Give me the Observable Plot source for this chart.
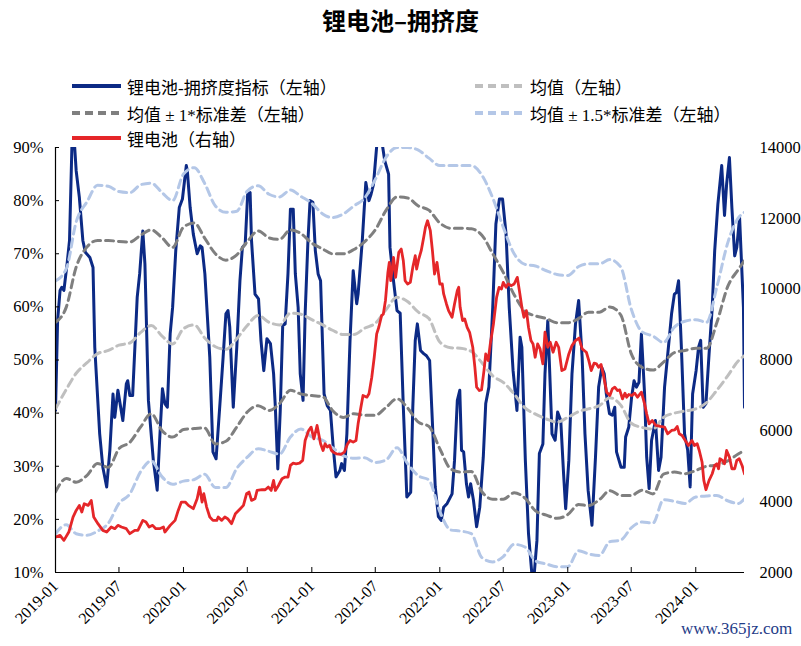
<!DOCTYPE html>
<html>
<head>
<meta charset="utf-8">
<script src="https://cdn.jsdelivr.net/npm/d3@7"></script>
<script src="https://cdn.jsdelivr.net/npm/@observablehq/plot@0.6"></script>
<style>
  body { margin: 0; background: #fff; }
  #wrap { position: relative; width: 801px; height: 646px; overflow: hidden;
          font-family: "Liberation Serif", "Noto Sans CJK SC", serif; color: #000; }
  #title { position: absolute; left: 0; top: 2px; width: 801px; text-align: center;
           font-family: "Noto Sans CJK SC", sans-serif; font-weight: 700; font-size: 24px; }
  .lg { position: absolute; display: flex; align-items: center; white-space: nowrap;
        font-size: 17px; height: 22px; }
  .lg svg { margin-right: 6px; }
  #chart { position: absolute; left: 0; top: 128px; }
  #wm { position: absolute; left: 681px; top: 619px; font-size: 17px; color: #1f3c88;
        font-family: "Liberation Serif", serif; }
</style>
</head>
<body>
<div id="wrap">
  <div id="title"></div>
  <div id="legend"></div>
  <div id="chart"></div>
  <div id="wm">www.365jz.com</div>
</div>
<script>
// ---------------- data ----------------
const chartTitle = "锂电池–拥挤度";
const seriesNames = ["锂电池-拥挤度指标（左轴）", "均值（左轴）", "均值 ± 1*标准差（左轴）", "均值 ± 1.5*标准差（左轴）", "锂电池（右轴）"];
const xTickLabels = ["2019-01","2019-07","2020-01","2020-07","2021-01","2021-07","2022-01","2022-07","2023-01","2023-07","2024-01"];
const leftTicks = [10, 20, 30, 40, 50, 60, 70, 80, 90];
const rightTicks = [2000, 4000, 6000, 8000, 10000, 12000, 14000];

// crowding index (%), left axis
const crowding = [
["2019-01-01",40.5],["2019-01-07",57.4],["2019-01-14",63.1],["2019-01-19",63.7],["2019-01-25",63.1],
["2019-02-03",68.1],["2019-02-10",72.5],["2019-02-19",96],["2019-03-01",85.6],["2019-03-10",80.6],
["2019-03-20",72.5],["2019-03-27",70.3],["2019-04-09",69.3],["2019-04-18",67.4],["2019-04-23",52.4],
["2019-05-07",36.1],["2019-05-16",29.8],["2019-05-27",26.1],["2019-06-05",33],["2019-06-14",43.6],
["2019-06-19",39.2],["2019-06-28",44.3],["2019-07-12",38.6],["2019-07-22",45.5],["2019-07-26",46.1],
["2019-08-01",43.3],["2019-08-09",43.3],["2019-08-22",61.8],["2019-08-29",66.2],["2019-09-07",74.3],
["2019-09-13",68.1],["2019-09-23",42.4],["2019-10-07",31.1],["2019-10-18",25.5],["2019-10-25",34.9],
["2019-11-02",44.6],["2019-11-09",41.8],["2019-11-16",41.1],["2019-11-24",54.9],["2019-12-01",59.9],
["2019-12-10",70.6],["2019-12-20",78.7],["2019-12-29",80.3],["2020-01-09",86.6],["2020-01-12",85.6],
["2020-01-20",78.7],["2020-01-29",73.7],["2020-02-09",70.0],["2020-02-18",71.5],["2020-02-23",71.2],
["2020-03-02",66.2],["2020-03-16",50.5],["2020-03-25",32.7],["2020-04-03",31.4],["2020-04-14",41.8],
["2020-04-23",50.5],["2020-05-01",58.7],["2020-05-07",59.3],["2020-05-12",56.2],["2020-05-22",41.1],
["2020-06-01",52.4],["2020-06-10",64.9],["2020-06-17",71.2],["2020-06-25",71.8],["2020-07-02",81.2],
["2020-07-09",81.5],["2020-07-13",72.5],["2020-07-23",62.4],["2020-08-02",61.5],["2020-08-09",53.7],
["2020-08-17",48.0],["2020-08-26",54.0],["2020-09-05",53.1],["2020-09-14",47.4],["2020-09-19",41.1],
["2020-09-26",29.5],["2020-10-03",40.5],["2020-10-10",56.5],["2020-10-17",56.8],["2020-10-25",66.2],
["2020-11-01",78.4],["2020-11-09",78.4],["2020-11-15",66.2],["2020-11-23",59.9],["2020-11-29",47.4],
["2020-12-07",42.4],["2020-12-13",58.7],["2020-12-21",72.5],["2020-12-27",80.0],["2021-01-04",79.7],
["2021-01-11",70.6],["2021-01-19",66.2],["2021-01-26",64.9],["2021-02-05",43.6],["2021-02-14",41.4],
["2021-02-23",40.5],["2021-03-03",33.6],["2021-03-11",28.0],["2021-03-22",29.2],["2021-03-27",30.5],
["2021-04-04",29.2],["2021-04-11",36.1],["2021-04-20",53.7],["2021-04-29",66.8],["2021-05-09",60.6],
["2021-05-13",62.4],["2021-05-25",72.5],["2021-06-04",83.4],["2021-06-13",80.0],["2021-06-19",81.2],
["2021-06-26",83.1],["2021-07-11",95],["2021-07-28",87.5],["2021-08-08",85.0],["2021-08-12",71.2],
["2021-08-22",64.9],["2021-09-01",59.3],["2021-09-10",58.8],["2021-09-19",41.1],["2021-09-29",24.2],
["2021-10-10",25.1],["2021-10-16",41.1],["2021-10-23",53.7],["2021-10-29",56.8],["2021-11-07",51.8],
["2021-11-16",51.2],["2021-11-24",50.8],["2021-12-03",49.9],["2021-12-09",41.1],["2021-12-19",26.1],
["2021-12-28",20.5],["2022-01-05",19.8],["2022-01-12",22.3],["2022-01-22",23.0],["2022-02-05",24.8],
["2022-02-12",31.1],["2022-02-20",42.4],["2022-02-27",44.3],["2022-03-04",33.0],["2022-03-10",32.7],
["2022-03-18",26.7],["2022-03-24",24.2],["2022-03-30",26.7],["2022-04-07",23.6],["2022-04-16",18.6],
["2022-04-25",22.3],["2022-05-05",31.7],["2022-05-12",41.8],["2022-05-21",44.9],["2022-06-01",59.9],
["2022-06-10",75.6],["2022-06-20",80.3],["2022-06-29",80.3],["2022-07-09",73.7],["2022-07-18",59.9],
["2022-07-29",48.0],["2022-08-09",40.5],["2022-08-18",54.3],["2022-08-23",52.4],["2022-09-02",31.1],
["2022-09-11",17.3],["2022-09-24",7],["2022-10-05",16.0],["2022-10-12",32.4],["2022-10-22",34.2],
["2022-10-28",47.4],["2022-11-05",57.4],["2022-11-10",48.6],["2022-11-17",36.1],["2022-11-26",34.9],
["2022-12-03",40.2],["2022-12-12",38.6],["2022-12-20",28.6],["2022-12-26",22.0],["2023-01-04",31.1],
["2023-01-13",47.4],["2023-01-23",56.8],["2023-02-01",61.2],["2023-02-11",50.5],["2023-02-19",36.1],
["2023-02-28",25.5],["2023-03-11",18.9],["2023-03-21",31.7],["2023-03-30",44.9],["2023-04-08",48.6],
["2023-04-15",47.4],["2023-04-21",43.6],["2023-04-30",39.9],["2023-05-08",39.6],["2023-05-15",41.1],
["2023-05-20",32.7],["2023-06-02",29.8],["2023-06-11",29.8],["2023-06-15",35.5],["2023-06-24",37.4],
["2023-07-02",43.0],["2023-07-09",46.1],["2023-07-16",44.9],["2023-07-23",45.8],["2023-07-30",54.9],
["2023-08-08",43.6],["2023-08-14",31.7],["2023-08-21",25.8],["2023-08-28",34.9],["2023-09-08",38.6],
["2023-09-17",29.2],["2023-09-24",31.7],["2023-10-04",44.9],["2023-10-15",52.4],["2023-10-24",58.7],
["2023-11-01",62.4],["2023-11-07",62.7],["2023-11-13",64.9],["2023-11-21",52.4],["2023-11-30",36.1],
["2023-12-09",33.0],["2023-12-16",26.1],["2023-12-23",43.6],["2024-01-02",48.0],["2024-01-09",52.4],
["2024-01-15",53.7],["2024-01-22",41.1],["2024-01-30",41.8],["2024-02-08",51.2],["2024-02-17",59.9],
["2024-02-24",70.6],["2024-03-04",79.3],["2024-03-15",86.6],["2024-03-23",77.2],["2024-03-29",83.1],
["2024-04-06",88.1],["2024-04-13",78.7],["2024-04-21",69.6],["2024-04-27",71.2],["2024-05-05",76.8],
["2024-05-09",70.6],["2024-05-16",59.9],["2024-05-19",41.1]
];

// lithium battery index, right axis
const batteryIndex = [
["2019-01-01",3000],["2019-01-14",3049],["2019-01-25",2908],["2019-02-08",3143],["2019-02-20",3566],
["2019-03-01",3754],["2019-03-10",3895],["2019-03-17",3707],["2019-03-24",3942],["2019-04-04",3895],
["2019-04-13",4036],["2019-04-20",3566],["2019-05-02",3378],["2019-05-16",3190],["2019-05-27",3143],
["2019-06-09",3284],["2019-06-19",3237],["2019-06-28",3331],["2019-07-08",3284],["2019-07-22",3237],
["2019-08-01",3096],["2019-08-15",3190],["2019-08-24",3190],["2019-09-07",3472],["2019-09-16",3425],
["2019-09-25",3284],["2019-10-05",3331],["2019-10-14",3237],["2019-10-25",3237],["2019-11-05",3284],
["2019-11-09",3143],["2019-11-24",3331],["2019-12-08",3472],["2019-12-17",3754],["2019-12-26",3989],
["2020-01-06",3989],["2020-01-15",3895],["2020-01-29",3801],["2020-02-09",4083],["2020-02-16",4412],
["2020-02-23",3989],["2020-02-28",4224],["2020-03-07",3848],["2020-03-16",3566],["2020-03-25",3472],
["2020-04-05",3472],["2020-04-09",3566],["2020-04-19",3472],["2020-04-28",3566],["2020-05-06",3519],
["2020-05-17",3378],["2020-05-28",3660],["2020-06-11",3801],["2020-06-20",3895],["2020-06-29",4224],
["2020-07-06",4271],["2020-07-13",4036],["2020-07-23",4083],["2020-07-29",4318],["2020-08-12",4337],
["2020-08-21",4337],["2020-08-30",4412],["2020-09-07",4318],["2020-09-14",4600],["2020-09-19",4318],
["2020-09-28",4459],["2020-10-08",4647],["2020-10-17",4694],["2020-10-25",4694],["2020-11-01",5023],
["2020-11-09",5089],["2020-11-17",5070],["2020-11-27",5089],["2020-12-06",5164],["2020-12-13",5728],
["2020-12-23",6010],["2020-12-30",6104],["2021-01-07",5775],["2021-01-16",6151],["2021-01-26",5634],
["2021-02-02",5446],["2021-02-08",5634],["2021-02-14",5540],["2021-02-21",5587],["2021-02-26",5446],
["2021-03-03",5399],["2021-03-12",5352],["2021-03-25",5333],["2021-04-04",5399],["2021-04-13",5634],
["2021-04-20",5728],["2021-04-29",5681],["2021-05-07",5728],["2021-05-13",6198],["2021-05-21",6668],
["2021-05-27",6997],["2021-06-07",6950],["2021-06-13",7044],["2021-06-21",7514],["2021-06-28",8078],
["2021-07-05",8736],["2021-07-11",8924],["2021-07-19",9253],["2021-07-24",9300],["2021-07-30",9676],
["2021-08-06",10475],["2021-08-10",10757],["2021-08-14",10240],["2021-08-22",10898],["2021-08-28",10334],
["2021-09-06",11039],["2021-09-13",11133],["2021-09-19",10800],["2021-09-24",10240],["2021-10-01",10146],
["2021-10-09",10193],["2021-10-16",10616],["2021-10-23",10945],["2021-10-27",10569],["2021-11-02",10851],
["2021-11-09",11086],["2021-11-16",11462],["2021-11-21",11744],["2021-11-27",11932],["2021-12-05",11650],
["2021-12-11",11086],["2021-12-17",10428],["2021-12-24",10757],["2022-01-01",10146],["2022-01-08",10146],
["2022-01-12",9864],["2022-01-20",9582],["2022-01-26",9394],["2022-02-05",9206],["2022-02-12",9582],
["2022-02-20",9958],["2022-02-24",10052],["2022-02-28",9488],["2022-03-07",9112],["2022-03-13",9159],
["2022-03-20",8924],["2022-03-27",8783],["2022-04-05",8360],["2022-04-11",7796],["2022-04-16",7232],
["2022-04-24",7138],["2022-04-30",7157],["2022-05-07",7702],["2022-05-12",8172],["2022-05-19",7984],
["2022-05-25",8454],["2022-06-03",9018],["2022-06-12",9770],["2022-06-19",10052],["2022-06-26",10005],
["2022-07-01",10193],["2022-07-09",10052],["2022-07-15",10146],["2022-07-24",10099],["2022-08-01",10146],
["2022-08-10",10334],["2022-08-16",9958],["2022-08-23",9488],["2022-08-29",9206],["2022-09-05",9394],
["2022-09-11",8924],["2022-09-18",8548],["2022-09-24",8454],["2022-09-30",8078],["2022-10-07",8454],
["2022-10-14",8313],["2022-10-22",7890],["2022-10-28",8783],["2022-11-05",8360],["2022-11-12",8501],
["2022-11-20",8219],["2022-11-29",8501],["2022-12-06",8360],["2022-12-15",7702],["2022-12-24",7749],
["2023-01-04",8172],["2023-01-13",8407],["2023-01-23",8548],["2023-02-02",8620],["2023-02-11",8313],
["2023-02-23",8219],["2023-03-02",7984],["2023-03-09",7702],["2023-03-17",7909],["2023-03-24",7890],
["2023-03-30",7796],["2023-04-06",7871],["2023-04-12",7608],["2023-04-22",7091],["2023-05-01",6997],
["2023-05-08",7185],["2023-05-15",7232],["2023-05-23",7138],["2023-05-29",7157],["2023-06-06",6903],
["2023-06-13",7063],["2023-06-18",6950],["2023-06-24",7025],["2023-07-02",6997],["2023-07-11",7063],
["2023-07-19",6950],["2023-07-30",7091],["2023-08-08",6762],["2023-08-14",6480],["2023-08-21",6198],
["2023-08-30",6292],["2023-09-09",6151],["2023-09-22",6123],["2023-10-04",6104],["2023-10-13",5916],
["2023-10-24",6010],["2023-11-02",6029],["2023-11-09",6123],["2023-11-15",5916],["2023-11-23",5869],
["2023-12-02",5728],["2023-12-11",5587],["2023-12-21",5728],["2023-12-28",5587],["2024-01-05",5634],
["2024-01-11",5446],["2024-01-19",5117],["2024-01-24",4600],["2024-01-30",4337],["2024-02-08",4600],
["2024-02-17",4788],["2024-02-24",5023],["2024-03-01",5070],["2024-03-06",4929],["2024-03-10",5211],
["2024-03-17",5164],["2024-03-23",5070],["2024-03-29",5446],["2024-04-06",5258],["2024-04-13",4929],
["2024-04-21",4929],["2024-04-27",5164],["2024-05-04",5211],["2024-05-12",5023],["2024-05-19",4788]
];

// rolling statistics of the crowding index (%), sampled monthly
const bandDates = [
"2019-01-01","2019-02-01","2019-03-01","2019-04-01","2019-05-01","2019-06-01","2019-07-01","2019-08-01","2019-09-01","2019-10-01","2019-11-01","2019-12-01",
"2020-01-01","2020-02-01","2020-03-01","2020-04-01","2020-05-01","2020-06-01","2020-07-01","2020-08-01","2020-09-01","2020-10-01","2020-11-01","2020-12-01",
"2021-01-01","2021-02-01","2021-03-01","2021-04-01","2021-05-01","2021-06-01","2021-07-01","2021-08-01","2021-09-01","2021-10-01","2021-11-01","2021-12-01",
"2022-01-01","2022-02-01","2022-03-01","2022-04-01","2022-05-01","2022-06-01","2022-07-01","2022-08-01","2022-09-01","2022-10-01","2022-11-01","2022-12-01",
"2023-01-01","2023-02-01","2023-03-01","2023-04-01","2023-05-01","2023-06-01","2023-07-01","2023-08-01","2023-09-01","2023-10-01","2023-11-01","2023-12-01",
"2024-01-01","2024-02-01","2024-03-01","2024-04-01","2024-05-01","2024-05-19"];
const meanValues = [40.8,44.5,47.5,49.5,51.2,51.8,52.8,53.2,55.2,56.5, 54.5,53.0,55.9,56.6,54.2,52.5,52.0,54.0,56.5,58.4,
  57.1,56.6,58.8,58.6,57.6,56.6,55.6,54.8,54.8,56.0, 56.9,59.5,61.8,61.0,59.0,57.8,53.4,52.3,52.2,51.6,
  49.5,47.0,45.8,43.6,41.0,39.8,38.9,38.3,39.2,40.3, 40.8,41.4,42.9,41.5,38.1,37.3,37.0,39.2,40.0,40.4,
  40.8,42.0,44.3,47.0,49.8,50.8];
const upper1Values = [57.1,60.0,67.5,71.3,72.5,72.5,72.3,72.2,73.5,74.5, 73.0,71.2,75.0,75.8,73.0,70.0,68.8,69.8,72.3,74.3,
  73.0,72.7,74.5,73.8,72.0,70.9,70.0,70.0,70.8,72.3, 74.5,78.2,80.7,80.5,79.0,78.2,75.8,74.8,74.8,74.7,
  73.5,70.0,66.5,62.3,59.2,58.3,57.8,57.0,57.0,57.8, 59.0,59.0,60.0,58.5,51.2,48.6,48.1,49.6,51.4,51.8,
  52.2,52.2,57.0,63.8,67.0,68.7];
const lower1Values = [25.2,27.7,27.0,28.3,30.5,29.8,33.3,34.5,37.4,39.9, 36.7,35.5,36.9,37.1,37.2,34.2,34.7,37.4,40.2,41.4,
  40.5,41.8,44.3,43.6,43.3,43.1,40.5,39.2,39.9,39.6, 39.6,41.1,42.7,41.0,38.3,37.5,33.3,29.5,28.9,29.0,
  25.2,23.8,23.8,25.0,24.0,21.6,20.8,20.2,20.9,22.8, 22.6,23.7,25.4,24.5,24.5,25.5,24.8,28.5,28.9,28.6,
  29.2,30.0,30.2,31.0,32.3,33.0];
const upper15Values = [64.9,67.2,76.0,79.8,82.9,82.7,81.7,81.5,83.0,83.3, 81.5,80.0,85.0,86.2,83.3,79.0,77.8,78.0,81.8,82.8,
  81.2,80.7,82.0,80.8,79.5,77.5,76.8,77.5,79.0,80.5, 84.0,88.2,90.0,90.0,89.5,88.0,86.6,86.6,86.6,86.6,
  84.8,80.5,75.0,70.0,68.0,67.7,66.8,66.1,65.9,67.6, 68.1,68.1,68.9,67.5,59.6,55.3,54.5,53.3,56.2,57.3,
  57.6,57.1,63.7,72.0,76.7,77.8];
const lower15Values = [17.3,19.0,17.3,17.0,17.8,19.3,23.0,24.8,29.0,31.0, 28.0,26.6,27.2,27.5,28.5,26.0,26.0,29.6,31.7,33.3,
  32.8,32.3,35.5,37.0,35.5,34.9,33.5,32.0,31.5,31.6, 30.7,31.2,33.5,30.5,28.2,27.4,21.5,18.0,17.8,17.3,
  12.8,12.0,13.0,15.3,14.8,12.2,11.6,11.1,11.1,14.1, 13.5,13.2,15.8,16.1,18.4,19.5,19.3,23.7,23.4,23.0,
  24.2,24.4,24.5,23.5,23.0,23.9];

// ---------------- styles ----------------
const C = { index: "#0c2a85", mean: "#bfbfbf", sd1: "#7f7f7f", sd15: "#b4c7e7", price: "#e52629" };
const DASH = "8,5";

// ---------------- title & legend ----------------
document.getElementById("title").textContent = chartTitle;
const legendItems = [
  {name: seriesNames[0], color: C.index, dash: null, left: 72, top: 75},
  {name: seriesNames[1], color: C.mean, dash: DASH, left: 475, top: 75},
  {name: seriesNames[2], color: C.sd1, dash: DASH, left: 72, top: 102},
  {name: seriesNames[3], color: C.sd15, dash: DASH, left: 475, top: 102},
  {name: seriesNames[4], color: C.price, dash: null, left: 72, top: 127}
];
const lg = document.getElementById("legend");
for (const it of legendItems) {
  const div = document.createElement("div");
  div.className = "lg";
  div.style.left = it.left + "px";
  div.style.top = it.top + "px";
  div.innerHTML = `<svg width="49" height="6"><line x1="0" y1="3" x2="49" y2="3" stroke="${it.color}" stroke-width="4" ${it.dash ? `stroke-dasharray="${it.dash}"` : ""}/></svg><span></span>`;
  div.querySelector("span").textContent = it.name;
  lg.appendChild(div);
}

// ---------------- chart ----------------
const parseDay = d3.utcParse("%Y-%m-%d");
const parseMonth = d3.utcParse("%Y-%m");
const toLeft = r => 10 + (r - 2000) / 150;      // right axis 2000..14000 -> left axis 10..90
const fromLeft = v => Math.round((v - 10) * 150 + 2000);

const crowdData = crowding.map(([d, v]) => ({date: parseDay(d), value: v}));
const priceData = batteryIndex.map(([d, v]) => ({date: parseDay(d), value: toLeft(v)}));
const band = vals => bandDates.map((d, i) => ({date: parseDay(d), value: vals[i]}));
const xTicks = xTickLabels.map(parseMonth);
const xDomain = [parseDay("2019-01-01"), parseDay("2024-05-19")];

const dashed = (vals, color) => Plot.lineY(band(vals), {
  x: "date", y: "value", stroke: color, strokeWidth: 3, strokeDasharray: DASH,
  curve: "monotone-x", clip: true
});

const chart = Plot.plot({
  width: 801,
  height: 518,
  marginLeft: 55,
  marginRight: 57,
  marginTop: 19,
  marginBottom: 74,
  style: {fontFamily: '"Liberation Serif", "Noto Sans CJK SC", serif', fontSize: "16px", color: "#000", background: "transparent", overflow: "visible"},
  x: {type: "utc", domain: xDomain, label: null},
  y: {domain: [10, 90], label: null},
  marks: [
    Plot.lineY(crowdData, {x: "date", y: "value", stroke: C.index, strokeWidth: 3, clip: true}),
    dashed(meanValues, C.mean),
    dashed(upper1Values, C.sd1),
    dashed(lower1Values, C.sd1),
    dashed(upper15Values, C.sd15),
    dashed(lower15Values, C.sd15),
    Plot.lineY(priceData, {x: "date", y: "value", stroke: C.price, strokeWidth: 2.8, clip: true}),
    Plot.ruleX([xDomain[0]], {stroke: "#000", strokeWidth: 1.2}),
    Plot.ruleY([10], {stroke: "#000", strokeWidth: 1.2}),
    Plot.axisY(leftTicks, {anchor: "left", label: null, tickSize: -4, tickFormat: () => "", strokeWidth: 1}),
    Plot.axisY(leftTicks, {anchor: "left", label: null, tickSize: 0, tickPadding: 12, tickFormat: d => d + "%", fontSize: 16.5}),
    Plot.axisY(rightTicks.map(toLeft), {anchor: "right", label: null, tickSize: 0, tickPadding: 15, tickFormat: d => String(fromLeft(d)), fontSize: 16.5}),
    Plot.axisX(xTicks, {anchor: "bottom", label: null, tickSize: -5, tickFormat: () => "", strokeWidth: 1}),
    Plot.axisX(xTicks, {anchor: "bottom", label: null, tickSize: 0, tickPadding: 11, tickRotate: -45, tickFormat: d3.utcFormat("%Y-%m"), fontSize: 16})
  ]
});
document.getElementById("chart").appendChild(chart);
</script>
</body>
</html>
